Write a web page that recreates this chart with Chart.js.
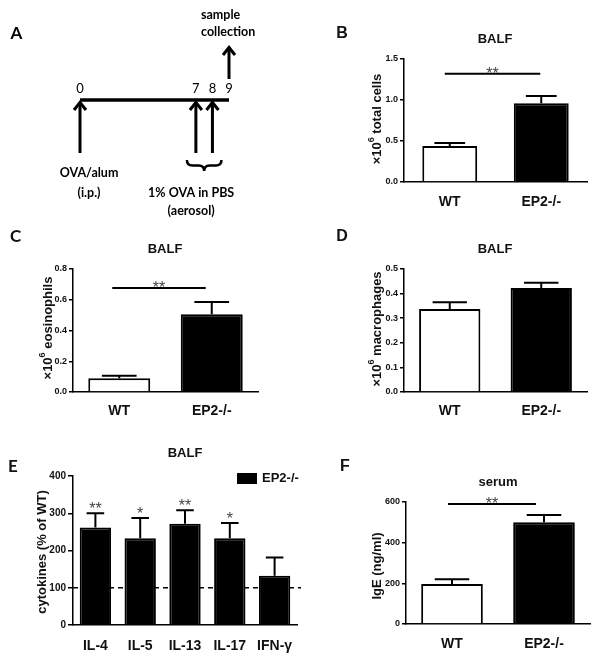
<!DOCTYPE html>
<html>
<head>
<meta charset="utf-8">
<script src="https://cdn.jsdelivr.net/npm/chart.js@4.4.0/dist/chart.umd.min.js"></script>
<style>
  html, body { margin: 0; padding: 0; background: #fff; }
  body { width: 602px; height: 658px; position: relative; overflow: hidden; }
  .layer { position: absolute; left: 0; top: 0; width: 602px; height: 658px; }
</style>
</head>
<body>
<div class="layer"><canvas id="chart-a"></canvas></div>
<div class="layer"><canvas id="chart-b"></canvas></div>
<div class="layer"><canvas id="chart-c"></canvas></div>
<div class="layer"><canvas id="chart-d"></canvas></div>
<div class="layer"><canvas id="chart-e"></canvas></div>
<div class="layer"><canvas id="chart-f"></canvas></div>
<script>
// panel A: protocol timeline (days)
const timelineDays = [0, 9];
const ovaAlumDays = [0];
const aerosolDays = [7, 8];
const collectionDays = [9];
const dayLabels = [0, 7, 8, 9];

// panels B-D, F: WT vs EP2-/-
const groups = ['WT', 'EP2-/-'];
const totalCells = [0.44, 0.96];
const totalCellsErr = [0.035, 0.09];
const eosinophils = [0.09, 0.505];
const eosinophilsErr = [0.015, 0.08];
const macrophages = [0.337, 0.423];
const macrophagesErr = [0.028, 0.021];
const ige = [197, 500];
const igeErr = [23, 36];

// panel E: cytokines in EP2-/- as % of WT
const cytokines = ['IL-4', 'IL-5', 'IL-13', 'IL-17', 'IFN-γ'];
const cytokinePct = [262, 233, 272, 233, 132];
const cytokineErr = [38, 54, 36, 41, 49];
const cytokineStars = ['**', '*', '**', '*', ''];

const W = 602, H = 658;
const ARIAL = '"Liberation Sans", Arial, sans-serif';
const CALIBRI = 'Lato, "Open Sans", sans-serif';

Chart.defaults.font.family = ARIAL;
Chart.defaults.color = '#111';

function arrowUp(ctx, px, fromY, toY) {
  ctx.beginPath();
  ctx.moveTo(px, fromY);
  ctx.lineTo(px, toY);
  ctx.stroke();
  ctx.beginPath();
  ctx.moveTo(px - 6, toY + 8);
  ctx.lineTo(px, toY + 0.5);
  ctx.lineTo(px + 6, toY + 8);
  ctx.stroke();
}

function brace(ctx, x0, x1, top, h) {
  const mid = (x0 + x1) / 2;
  const half = h / 2;
  ctx.beginPath();
  ctx.moveTo(x0, top);
  ctx.quadraticCurveTo(x0, top + half, x0 + half, top + half);
  ctx.lineTo(mid - half, top + half);
  ctx.quadraticCurveTo(mid, top + half, mid, top + h);
  ctx.quadraticCurveTo(mid, top + half, mid + half, top + half);
  ctx.lineTo(x1 - half, top + half);
  ctx.quadraticCurveTo(x1, top + half, x1, top);
  ctx.stroke();
}

function text(ctx, str, x, y, font, align) {
  ctx.font = font;
  ctx.textAlign = align || 'center';
  ctx.textBaseline = 'middle';
  ctx.fillText(str, x, y);
}

const timelineMarks = {
  id: 'timelineMarks',
  afterDatasetsDraw(chart) {
    const { ctx, scales: { x, y } } = chart;
    const lineY = y.getPixelForValue(0);
    const lowY = y.getPixelForValue(-1);
    const highY = y.getPixelForValue(1);
    ctx.save();
    ctx.strokeStyle = '#000';
    ctx.fillStyle = '#000';
    ctx.lineWidth = 3;
    ctx.lineJoin = 'miter';

    ovaAlumDays.concat(aerosolDays).forEach((d) => arrowUp(ctx, x.getPixelForValue(d), lowY, lineY + 2));
    // collection arrow starts above the day label
    collectionDays.forEach((d) => arrowUp(ctx, x.getPixelForValue(d), lineY - 21, highY));

    const b0 = x.getPixelForValue(aerosolDays[0]) - 9;
    const b1 = x.getPixelForValue(aerosolDays[aerosolDays.length - 1]) + 9;
    ctx.lineWidth = 2.5;
    brace(ctx, b0, b1, lowY + 7, 11);

    dayLabels.forEach((d) => text(ctx, String(d), x.getPixelForValue(d), lineY - 11, '13px ' + CALIBRI));

    const f = 'bold 12.5px ' + CALIBRI;
    const cx = x.getPixelForValue(collectionDays[0]) - 28;
    text(ctx, 'sample', cx, highY - 32, f, 'left');
    text(ctx, 'collection', cx, highY - 15, f, 'left');

    const ox = x.getPixelForValue(ovaAlumDays[0]) + 9;
    text(ctx, 'OVA/alum', ox, lowY + 20, f);
    text(ctx, '(i.p.)', ox, lowY + 40, f);

    const ax = (b0 + b1) / 2 - 13;
    text(ctx, '1% OVA in PBS', ax, lowY + 40, f);
    text(ctx, '(aerosol)', ax, lowY + 58, f);

    text(ctx, 'A', 16.5, 34, 'bold 17px ' + CALIBRI);
    ctx.restore();
  }
};

const errorBars = {
  id: 'errorBars',
  afterDatasetsDraw(chart) {
    const { ctx, scales: { y } } = chart;
    ctx.save();
    ctx.strokeStyle = '#000';
    ctx.lineWidth = 2;
    chart.data.datasets.forEach((ds, i) => {
      if (!ds.errors) return;
      chart.getDatasetMeta(i).data.forEach((bar, j) => {
        const top = y.getPixelForValue(ds.data[j] + ds.errors[j]);
        const half = bar.width * 0.28;
        ctx.beginPath();
        ctx.moveTo(bar.x, bar.y);
        ctx.lineTo(bar.x, top);
        ctx.moveTo(bar.x - half, top);
        ctx.lineTo(bar.x + half, top);
        ctx.stroke();
      });
    });
    ctx.restore();
  }
};

const decor = {
  id: 'decor',
  beforeDatasetsDraw(chart, args, opts) {
    if (opts.refLine == null) return;
    const { ctx, chartArea, scales: { y } } = chart;
    const py = y.getPixelForValue(opts.refLine);
    ctx.save();
    ctx.setLineDash([5, 4]);
    ctx.lineWidth = 1.5;
    ctx.strokeStyle = '#000';
    ctx.beginPath();
    ctx.moveTo(chartArea.left, py);
    ctx.lineTo(chartArea.right + 4, py);
    ctx.stroke();
    ctx.restore();
  },
  afterDraw(chart, args, opts) {
    const { ctx, scales: { x, y } } = chart;
    ctx.save();
    ctx.fillStyle = '#111';
    text(ctx, opts.letter, opts.letterX, opts.letterY, opts.letterFont);
    text(ctx, opts.title, opts.titleX, opts.titleY, 'bold 13px ' + ARIAL);

    // rotated y title, optional superscript
    ctx.save();
    ctx.translate(opts.yTitleX, opts.yTitleY);
    ctx.rotate(-Math.PI / 2);
    const main = 'bold 13px ' + ARIAL;
    const small = 'bold 9px ' + ARIAL;
    ctx.font = main;
    const w1 = ctx.measureText(opts.yPre).width;
    const w3 = ctx.measureText(opts.yPost).width;
    ctx.font = small;
    const w2 = opts.ySup ? ctx.measureText(opts.ySup).width : 0;
    let px = -(w1 + w2 + w3) / 2;
    ctx.textBaseline = 'middle';
    ctx.textAlign = 'left';
    ctx.font = main;
    ctx.fillText(opts.yPre, px, 0);
    px += w1;
    if (opts.ySup) {
      ctx.font = small;
      ctx.fillText(opts.ySup, px, -5);
      px += w2;
    }
    ctx.font = main;
    ctx.fillText(opts.yPost, px, 0);
    ctx.restore();

    ctx.fillStyle = '#444';
    if (opts.sig) {
      const s = opts.sig;
      const sy = y.getPixelForValue(s.value);
      const x0 = x.getPixelForValue(0) + s.dx0;
      const x1 = x.getPixelForValue(1) + s.dx1;
      ctx.strokeStyle = '#000';
      ctx.lineWidth = 2;
      ctx.beginPath();
      ctx.moveTo(x0, sy);
      ctx.lineTo(x1, sy);
      ctx.stroke();
      ctx.font = '16px ' + ARIAL;
      ctx.textAlign = 'center';
      ctx.textBaseline = 'alphabetic';
      ctx.fillText('**', (x0 + x1) / 2, sy + 5);
    }

    if (opts.stars) {
      const ds = chart.data.datasets[0];
      ctx.font = '16px ' + ARIAL;
      ctx.textAlign = 'center';
      ctx.textBaseline = 'alphabetic';
      chart.getDatasetMeta(0).data.forEach((bar, j) => {
        if (!opts.stars[j]) return;
        const top = y.getPixelForValue(ds.data[j] + ds.errors[j]);
        ctx.fillText(opts.stars[j], bar.x, top + 1);
      });
    }

    if (opts.legend) {
      const ds = chart.data.datasets[0];
      ctx.fillStyle = '#000';
      ctx.fillRect(opts.legendX, opts.legendY - 5.5, 20, 11);
      ctx.fillStyle = '#111';
      text(ctx, ds.label, opts.legendX + 25, opts.legendY, 'bold 13px ' + ARIAL, 'left');
    }
    ctx.restore();
  }
};

function makeBarChart(id, cfg) {
  const a = cfg.area;
  new Chart(document.getElementById(id), {
    type: 'bar',
    data: {
      labels: cfg.labels,
      datasets: [{
        label: cfg.label,
        data: cfg.values,
        errors: cfg.errors,
        backgroundColor: cfg.fills,
        borderColor: '#000',
        borderWidth: 2,
        barPercentage: cfg.barPct,
        categoryPercentage: 1
      }]
    },
    options: {
      responsive: true,
      maintainAspectRatio: false,
      animation: false,
      events: [],
      layout: {
        padding: {
          left: a.left - cfg.yWidth,
          right: W - a.right,
          top: a.top,
          bottom: H - a.bottom - cfg.xHeight
        }
      },
      plugins: {
        legend: { display: false },
        tooltip: { enabled: false },
        decor: cfg.decor
      },
      scales: {
        x: {
          grid: { display: false },
          border: { color: '#000', width: 1.5 },
          ticks: { color: '#111', padding: cfg.xPad, font: { size: 14, weight: 'bold' } },
          afterFit: (s) => { s.height = cfg.xHeight; }
        },
        y: {
          min: 0,
          max: cfg.max,
          grid: { drawOnChartArea: false, tickLength: cfg.tickLen, color: '#000', lineWidth: 1.5 },
          border: { color: '#000', width: 1.5 },
          ticks: {
            stepSize: cfg.step,
            color: '#111',
            padding: 2,
            font: { size: cfg.tickSize, weight: 'bold' },
            callback: cfg.tickFormat
          },
          afterFit: (s) => { s.width = cfg.yWidth; }
        }
      }
    },
    plugins: [errorBars, decor]
  });
}

// A: timeline
new Chart(document.getElementById('chart-a'), {
  type: 'scatter',
  data: {
    datasets: [{
      data: timelineDays.map((d) => ({ x: d, y: 0 })),
      showLine: true,
      borderColor: '#000',
      borderWidth: 3.5,
      pointRadius: 0,
      clip: false
    }]
  },
  options: {
    responsive: true,
    maintainAspectRatio: false,
    animation: false,
    events: [],
    layout: { padding: { left: 80, right: W - 229, top: 47, bottom: H - 153 } },
    plugins: { legend: { display: false }, tooltip: { enabled: false } },
    scales: {
      x: { type: 'linear', min: 0, max: 9, display: false },
      y: { type: 'linear', min: -1, max: 1, display: false }
    }
  },
  plugins: [timelineMarks]
});

const oneDecimal = (v) => v.toFixed(1);

makeBarChart('chart-b', {
  labels: groups, values: totalCells, errors: totalCellsErr, fills: ['#fff', '#000'],
  area: { left: 404, right: 587, top: 59, bottom: 182 }, yWidth: 40, xHeight: 30, xPad: 4,
  max: 1.5, step: 0.5, tickSize: 9, tickLen: 4, tickFormat: oneDecimal, barPct: 0.6,
  decor: {
    letter: 'B', letterX: 342, letterY: 34, letterFont: 'bold 16px ' + ARIAL,
    title: 'BALF', titleX: 495, titleY: 39,
    yPre: '×10', ySup: '6', yPost: ' total cells', yTitleX: 377, yTitleY: 119,
    sig: { value: 1.32, dx0: -5, dx1: -1 }
  }
});

makeBarChart('chart-c', {
  labels: groups, values: eosinophils, errors: eosinophilsErr, fills: ['#fff', '#000'],
  area: { left: 73, right: 258, top: 269, bottom: 392 }, yWidth: 40, xHeight: 30, xPad: 3,
  max: 0.8, step: 0.2, tickSize: 9, tickLen: 4, tickFormat: oneDecimal, barPct: 0.67,
  decor: {
    letter: 'C', letterX: 15.5, letterY: 237, letterFont: 'bold 17px ' + CALIBRI,
    title: 'BALF', titleX: 165, titleY: 249,
    yPre: '×10', ySup: '6', yPost: ' eosinophils', yTitleX: 48, yTitleY: 328,
    sig: { value: 0.676, dx0: -7, dx1: -6 }
  }
});

makeBarChart('chart-d', {
  labels: groups, values: macrophages, errors: macrophagesErr, fills: ['#fff', '#000'],
  area: { left: 404, right: 587, top: 269, bottom: 392 }, yWidth: 40, xHeight: 30, xPad: 3,
  max: 0.5, step: 0.1, tickSize: 9, tickLen: 4, tickFormat: oneDecimal, barPct: 0.67,
  decor: {
    letter: 'D', letterX: 342, letterY: 237, letterFont: 'bold 16px ' + ARIAL,
    title: 'BALF', titleX: 495, titleY: 249,
    yPre: '×10', ySup: '6', yPost: ' macrophages', yTitleX: 377, yTitleY: 329
  }
});

makeBarChart('chart-e', {
  labels: cytokines, values: cytokinePct, errors: cytokineErr, fills: '#000', label: 'EP2-/-',
  area: { left: 73, right: 297, top: 476, bottom: 625 }, yWidth: 40, xHeight: 30, xPad: 5,
  max: 400, step: 100, tickSize: 10, tickLen: 5, tickFormat: (v) => v, barPct: 0.7,
  decor: {
    letter: 'E', letterX: 13, letterY: 467, letterFont: 'bold 17px ' + CALIBRI,
    title: 'BALF', titleX: 185, titleY: 453,
    yPre: 'cytokines (% of WT)', ySup: '', yPost: '', yTitleX: 42, yTitleY: 552,
    stars: cytokineStars, refLine: 100,
    legend: true, legendX: 237, legendY: 478.5
  }
});

makeBarChart('chart-f', {
  labels: groups, values: ige, errors: igeErr, fills: ['#fff', '#000'],
  area: { left: 406, right: 590, top: 502, bottom: 624 }, yWidth: 40, xHeight: 30, xPad: 4,
  max: 600, step: 200, tickSize: 9, tickLen: 4, tickFormat: (v) => v, barPct: 0.67,
  decor: {
    letter: 'F', letterX: 345, letterY: 467, letterFont: 'bold 16px ' + ARIAL,
    title: 'serum', titleX: 498, titleY: 482,
    yPre: 'IgE (ng/ml)', ySup: '', yPost: '', yTitleX: 377, yTitleY: 566,
    sig: { value: 590, dx0: -4, dx1: -8 }
  }
});
</script>
</body>
</html>
